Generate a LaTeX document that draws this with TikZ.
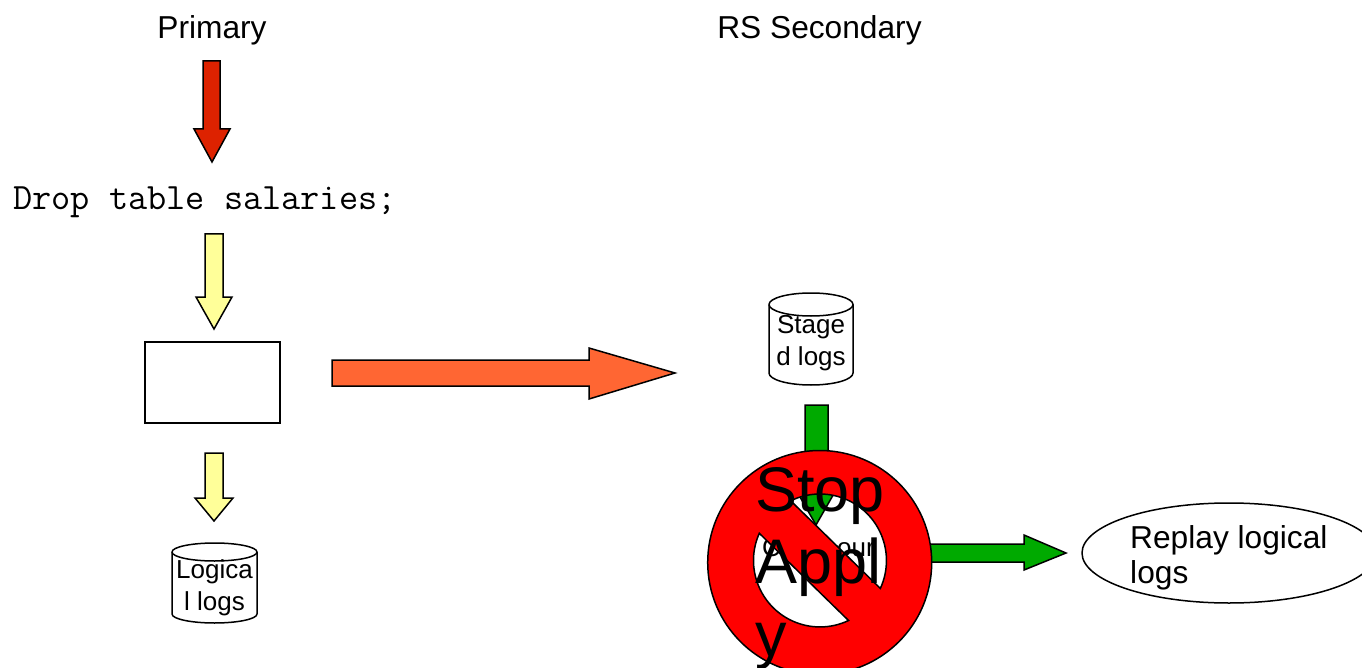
\documentclass[tikz,border=0pt]{standalone}
\usepackage{fontspec}
\setmainfont{Liberation Sans}
\usetikzlibrary{shapes.geometric}
\definecolor{arrowred}{HTML}{DD2200}
\definecolor{arrowyellow}{HTML}{FFFF99}
\definecolor{arroworange}{HTML}{FF6633}
\definecolor{arrowgreen}{HTML}{00AA00}
\definecolor{stopred}{HTML}{FF0000}
\tikzset{
  shapeline/.style={draw=black,line width=1.5pt,line join=miter},
  blockarrow/.style={shapeline,fill=#1},
  lab/.style={inner sep=0pt,anchor=base,align=center},
  biglab/.style={inner sep=0pt,anchor=base west,font=\fontsize{63}{73}\selectfont},
  midlab/.style={inner sep=0pt,anchor=base west,font=\fontsize{31.7}{38}\selectfont},
  drumtext/.style={inner sep=0pt,anchor=base,font=\fontsize{26}{32}\selectfont},
}
% centre-x, half-width, top-ellipse centre y, top radius y, side bottom y, bottom radius y
\newcommand{\drum}[6]{%
  \draw[shapeline,fill=white] ({#1-#2},#3)
    arc[start angle=180,end angle=360,x radius=#2,y radius=#4]
    -- ({#1+#2},#5)
    arc[start angle=0,end angle=180,x radius=#2,y radius=#6]
    -- cycle;
  \draw[shapeline] ({#1-#2},#3)
    arc[start angle=180,end angle=0,x radius=#2,y radius=#4];
}
\begin{document}
\begin{tikzpicture}[x=1pt,y=1pt,yscale=-1]
\useasboundingbox (0,0) rectangle (1362,668);
\begin{scope}
\clip (0,0) rectangle (1362,668);

\node[lab,font=\fontsize{31.7}{38}\selectfont] (primary) at (212,39) {Primary};
\node[lab,font=\fontsize{31.7}{38}\selectfont] (secondary) at (819.5,39) {RS Secondary};
\node[lab,font=\fontsize{37.2}{40}\ttfamily] (drop) at (205,210) {Drop table salaries;};

\draw[blockarrow=arrowred] (203,61) -- (220,61) -- (220,129) -- (230,129) -- (212,162) -- (194,129) -- (203,129) -- cycle;
\draw[blockarrow=arrowyellow] (205,234) -- (223,234) -- (223,297) -- (232,297) -- (214,329) -- (196,297) -- (205,297) -- cycle;
\node[draw=black,line width=1.2pt,fill=white,minimum width=135pt,minimum height=81pt,inner sep=0pt] (box) at (212.5,382.5) {};
\draw[blockarrow=arroworange] (332,360) -- (589,360) -- (589,348) -- (675,373) -- (589,399) -- (589,386) -- (332,386) -- cycle;
\draw[blockarrow=arrowyellow] (205,453) -- (223,453) -- (223,498) -- (233,498) -- (214,521) -- (195,498) -- (205,498) -- cycle;

\drum{214.5}{42.5}{552}{9}{614}{9}
\node[drumtext] (logica) at (214.5,578) {Logica};
\node[drumtext] (llogs) at (214.5,610) {l logs};

\drum{811}{42}{304.5}{11.5}{373}{12}
\node[drumtext] (stage) at (811,333) {Stage};
\node[drumtext] (dlogs) at (811,365) {d logs};

\draw[blockarrow=arrowgreen] (805,405) -- (828,405) -- (828,490) -- (836,490) -- (816,525) -- (796,490) -- (805,490) -- cycle;
\node[inner sep=0pt,anchor=base west,font=\fontsize{26}{32}\selectfont] (hiddenl) at (762,556) {C};
\node[inner sep=0pt,anchor=base east,font=\fontsize{26}{32}\selectfont] (hiddenr) at (875,556) {our};
\draw[blockarrow=arrowgreen] (900,544) -- (1024,544) -- (1024,535) -- (1066,553) -- (1024,570) -- (1024,562) -- (900,562) -- cycle;

\draw[shapeline,fill=stopred,even odd rule]
  (819.7,562.5) circle[radius=112]
  (790.7,500.8) arc[start angle=-116.1,end angle=24.8,radius=66.5] -- cycle
  (759.3,533.3) arc[start angle=-155.9,end angle=-295.4,radius=66.5] -- cycle;

\node[biglab] (stop) at (755,511) {Stop};
\node[biglab] (appl) at (755,583) {Appl};
\node[biglab] (y) at (755,656) {y};

\node[draw=black,line width=1.5pt,fill=white,ellipse,minimum width=294pt,minimum height=100pt,inner sep=0pt] (replay) at (1229,553) {};
\node[midlab] (rl1) at (1130,548) {Replay logical};
\node[midlab] (rl2) at (1130,583) {logs};
\end{scope}
\end{tikzpicture}
\end{document}
